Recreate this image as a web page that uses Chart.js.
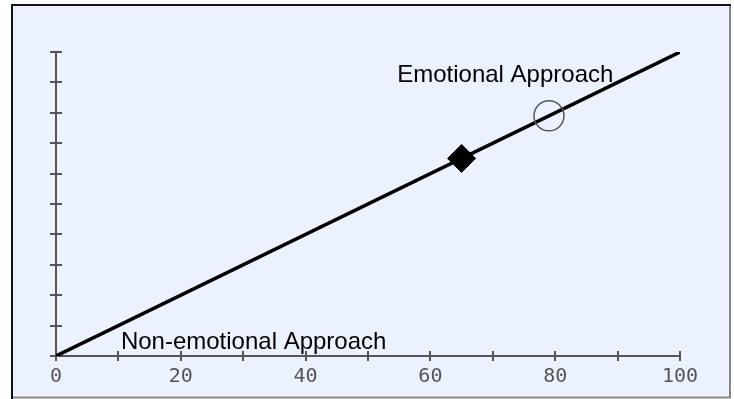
<!DOCTYPE html>
<html>
<head>
<meta charset="utf-8">
<script src="https://cdn.jsdelivr.net/npm/chart.js@4.4.1/dist/chart.umd.min.js"></script>
<style>
  html, body { margin: 0; padding: 0; background: #ffffff; }
  #wrap { width: 734px; height: 399px; position: relative; }
</style>
</head>
<body>
<div id="wrap"><canvas id="c" width="734" height="399"></canvas></div>
<script>
// ---- data ----
const xTickValues = [0, 10, 20, 30, 40, 50, 60, 70, 80, 90, 100];
const xTickLabels = ['0', '', '20', '', '40', '', '60', '', '80', '', '100'];
const yTickValues = [0, 10, 20, 30, 40, 50, 60, 70, 80, 90, 100];
const lineX = [0, 100];
const lineY = [0, 100];
const diamondX = [65];
const diamondY = [65];
const circleX = [79];
const circleY = [79];
const annotationTexts = ['Emotional Approach', 'Non-emotional Approach'];
const annotationX = [72, 10.4];
const annotationY = [90.1, 2.3];
const annotationAlign = ['center', 'left'];

const toPts = (xs, ys) => xs.map((x, i) => ({ x: x, y: ys[i] }));

const framePlugin = {
  id: 'frame',
  beforeDraw(chart) {
    const ctx = chart.ctx;
    ctx.save();
    ctx.fillStyle = '#ffffff';
    ctx.fillRect(0, 0, chart.width, chart.height);
    ctx.fillStyle = '#ebf1fd';
    ctx.fillRect(12, 5, 718, 393);
    ctx.lineWidth = 2;
    ctx.strokeStyle = '#888888';
    ctx.beginPath();
    ctx.moveTo(730, 5); ctx.lineTo(730, 398);
    ctx.moveTo(12, 397.5); ctx.lineTo(731, 397.5);
    ctx.stroke();
    ctx.strokeStyle = '#111111';
    ctx.beginPath();
    ctx.moveTo(12, 399); ctx.lineTo(12, 5); ctx.lineTo(731, 5);
    ctx.stroke();
    ctx.restore();
  },
  beforeDatasetsDraw(chart) {
    const ctx = chart.ctx;
    const xs = chart.scales.x, ys = chart.scales.y;
    const x0 = xs.getPixelForValue(0), x1 = xs.getPixelForValue(100);
    const y0 = ys.getPixelForValue(0), y1 = ys.getPixelForValue(100);
    ctx.save();
    ctx.strokeStyle = '#555555';
    ctx.lineWidth = 2;
    ctx.beginPath();
    ctx.moveTo(x0, y1); ctx.lineTo(x0, y0); ctx.lineTo(x1, y0);
    ctx.stroke();
    ctx.beginPath();
    xTickValues.forEach(v => {
      const px = Math.round(xs.getPixelForValue(v));
      ctx.moveTo(px, y0 - 5); ctx.lineTo(px, y0 + 5);
    });
    yTickValues.forEach(v => {
      const py = Math.round(ys.getPixelForValue(v));
      ctx.moveTo(x0 - 6, py); ctx.lineTo(x0 + 6, py);
    });
    ctx.stroke();
    ctx.restore();
  },
  afterDatasetsDraw(chart) {
    const ctx = chart.ctx;
    const xs = chart.scales.x, ys = chart.scales.y;
    ctx.save();
    ctx.fillStyle = '#000000';
    ctx.font = '24px "Liberation Sans", Arial, sans-serif';
    ctx.textBaseline = 'alphabetic';
    annotationTexts.forEach((t, i) => {
      ctx.textAlign = annotationAlign[i];
      ctx.fillText(t, xs.getPixelForValue(annotationX[i]), ys.getPixelForValue(annotationY[i]));
    });
    ctx.restore();
  }
};

new Chart(document.getElementById('c'), {
  type: 'scatter',
  data: {
    datasets: [
      {
        data: toPts(lineX, lineY),
        showLine: true,
        borderColor: '#000000',
        borderWidth: 3.5,
        pointRadius: 0,
        order: 3
      },
      {
        data: toPts(circleX, circleY),
        pointStyle: 'circle',
        pointRadius: 15,
        backgroundColor: 'rgba(0,0,0,0)',
        borderColor: '#555555',
        borderWidth: 1.5,
        order: 2
      },
      {
        data: toPts(diamondX, diamondY),
        pointStyle: 'rectRot',
        pointRadius: 14,
        backgroundColor: '#000000',
        borderColor: '#000000',
        borderWidth: 1,
        order: 1
      }
    ]
  },
  options: {
    responsive: false,
    animation: false,
    devicePixelRatio: 1,
    layout: { padding: { left: 56, top: 52, right: 54, bottom: 0 } },
    plugins: { legend: { display: false }, tooltip: { enabled: false } },
    scales: {
      x: {
        type: 'linear', min: 0, max: 100,
        afterFit(s) { s.height = 43; },
        afterBuildTicks(s) { s.ticks = xTickValues.map(v => ({ value: v })); },
        grid: { display: false, drawTicks: false },
        border: { display: false },
        ticks: {
          padding: 9,
          color: '#555555',
          font: { family: '"DejaVu Sans Mono", monospace', size: 20 },
          maxRotation: 0,
          autoSkip: false,
          callback: (v, i) => xTickLabels[i]
        }
      },
      y: {
        type: 'linear', min: 0, max: 100,
        afterFit(s) { s.width = 0; },
        afterBuildTicks(s) { s.ticks = yTickValues.map(v => ({ value: v })); },
        grid: { display: false, drawTicks: false },
        border: { display: false },
        ticks: { display: false }
      }
    }
  },
  plugins: [framePlugin]
});
</script>
</body>
</html>
